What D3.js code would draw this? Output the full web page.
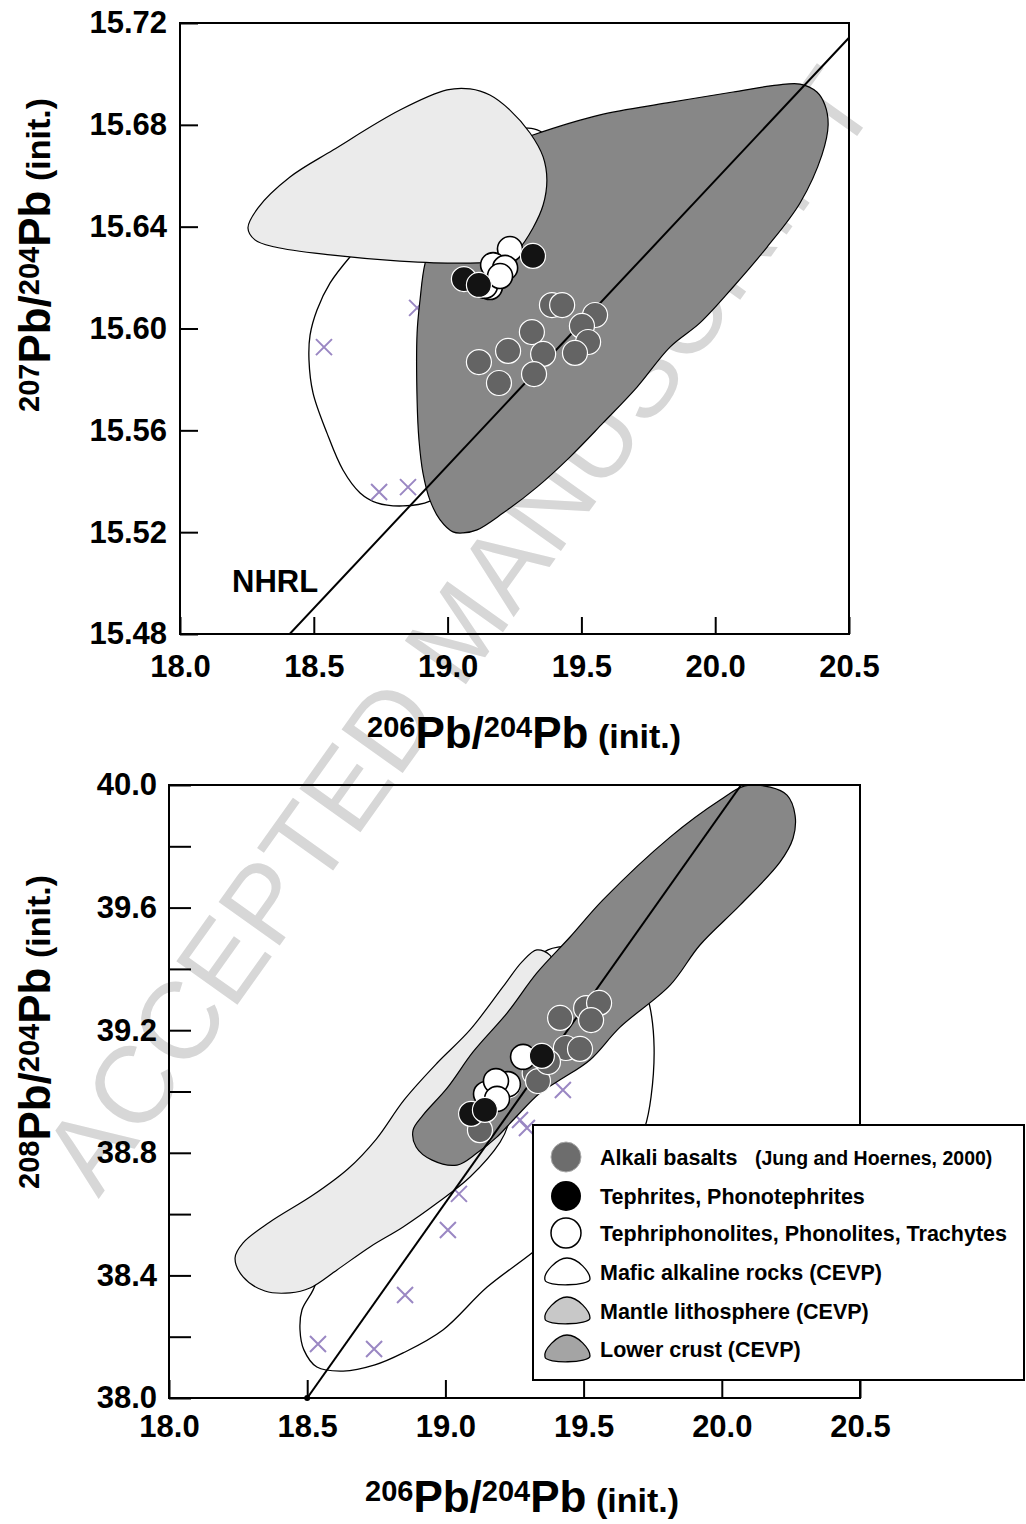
<!DOCTYPE html>
<html>
<head>
<meta charset="utf-8">
<script src="https://cdn.jsdelivr.net/npm/d3@7"></script>
<style>
  body { margin: 0; background: #fff; }
  svg { display: block; font-family: "Liberation Sans", Arial, Helvetica, sans-serif; }
</style>
</head>
<body>
<svg id="chart" width="1026" height="1524"></svg>
<script>
// ---------- shared axis values ----------
const xTicks = [18.0, 18.5, 19.0, 19.5, 20.0, 20.5];
const yTicks207 = [15.48, 15.52, 15.56, 15.60, 15.64, 15.68, 15.72];
const yTicks208 = [38.0, 38.2, 38.4, 38.6, 38.8, 39.0, 39.2, 39.4, 39.6, 39.8, 40.0];
const yLabels208 = [38.0, 38.4, 38.8, 39.2, 39.6, 40.0];

// ---------- 206Pb/204Pb vs 207Pb/204Pb ----------
const alkali207 = [
  [19.390, 15.6092], [19.428, 15.6092], [19.551, 15.6053], [19.502, 15.6010],
  [19.525, 15.5947], [19.476, 15.5904], [19.315, 15.5986], [19.226, 15.5912],
  [19.117, 15.5868], [19.192, 15.5786], [19.357, 15.5900], [19.323, 15.5821]
];
const tephrite207 = [[19.061, 15.6194], [19.117, 15.6171], [19.319, 15.6285]];
const phonolite207 = [
  [19.158, 15.6163], [19.140, 15.6168], [19.233, 15.6312], [19.170, 15.6249],
  [19.215, 15.6238], [19.196, 15.6206]
];
const mafic207Samples = [[18.538, 15.5927], [18.744, 15.5358], [18.852, 15.5377], [18.886, 15.6081]];
const nhrl207 = [[18.41, 15.48], [20.5, 15.7142]];

const maficField207 = [
  [18.635, 15.6281], [18.561, 15.6179], [18.512, 15.6073], [18.486, 15.5974],
  [18.482, 15.5876], [18.497, 15.5747], [18.549, 15.5590], [18.609, 15.5444],
  [18.673, 15.5354], [18.736, 15.5315], [18.833, 15.5303], [18.934, 15.5322],
  [19.084, 15.5444], [19.271, 15.5719], [19.383, 15.6112], [19.401, 15.6505],
  [19.364, 15.6760], [19.271, 15.6788], [19.121, 15.6740], [18.897, 15.6564],
  [18.729, 15.6387]
];
const mantleField207 = [
  [18.254, 15.6395], [18.291, 15.6473], [18.411, 15.6595], [18.572, 15.6701],
  [18.822, 15.6858], [18.998, 15.6937], [19.084, 15.6941], [19.158, 15.6917],
  [19.233, 15.6858], [19.308, 15.6768], [19.357, 15.6674], [19.371, 15.6583],
  [19.357, 15.6485], [19.319, 15.6395], [19.263, 15.6308], [19.215, 15.6269],
  [19.084, 15.6257], [18.822, 15.6265], [18.561, 15.6289], [18.355, 15.6320],
  [18.280, 15.6348]
];
const crustField207 = [
  [19.319, 15.6760], [19.570, 15.6839], [19.820, 15.6886], [20.067, 15.6929],
  [20.231, 15.6956], [20.317, 15.6960], [20.380, 15.6929], [20.410, 15.6878],
  [20.422, 15.6799], [20.399, 15.6682], [20.317, 15.6493], [20.194, 15.6320],
  [20.067, 15.6163], [19.943, 15.6022], [19.831, 15.5927], [19.708, 15.5770],
  [19.581, 15.5629], [19.457, 15.5495], [19.334, 15.5377], [19.207, 15.5275],
  [19.110, 15.5209], [19.058, 15.5197], [19.020, 15.5201], [18.972, 15.5248],
  [18.934, 15.5326], [18.908, 15.5432], [18.893, 15.5562], [18.886, 15.5719],
  [18.886, 15.5982], [18.897, 15.6112], [18.916, 15.6257], [18.972, 15.6426],
  [19.121, 15.6623], [19.252, 15.6733]
];

// ---------- 206Pb/204Pb vs 208Pb/204Pb ----------
const alkali208 = [
  [19.226, 39.020], [19.192, 38.990], [19.323, 39.060],
  [19.415, 39.240], [19.509, 39.272], [19.556, 39.289], [19.527, 39.233],
  [19.436, 39.142], [19.487, 39.139], [19.335, 39.034], [19.371, 39.096],
  [19.125, 38.874]
];
const tephrite208 = [[19.093, 38.927], [19.143, 38.940], [19.349, 39.116]];
const phonolite208 = [
  [19.226, 39.024], [19.147, 38.992], [19.183, 39.034], [19.187, 38.976], [19.281, 39.113]
];
const mafic208Samples = [
  [18.539, 38.176], [18.742, 38.160], [18.854, 38.336], [19.009, 38.548],
  [19.049, 38.666], [19.270, 38.907], [19.295, 38.881], [19.425, 39.005], [19.378, 39.423]
];
const nhrl208 = [[18.5, 38.0], [20.07, 40.0]];

const maficField208 = [
  [18.521, 38.352], [18.481, 38.287], [18.474, 38.222], [18.488, 38.157],
  [18.535, 38.101], [18.630, 38.088], [18.745, 38.108], [18.847, 38.147],
  [18.991, 38.222], [19.151, 38.362], [19.313, 38.473], [19.523, 38.630],
  [19.668, 38.776], [19.722, 38.884], [19.744, 38.982], [19.755, 39.145],
  [19.740, 39.276], [19.711, 39.357], [19.661, 39.413], [19.570, 39.462],
  [19.458, 39.475], [19.371, 39.462], [19.306, 39.413], [19.125, 39.168],
  [18.908, 38.907], [18.691, 38.646], [18.564, 38.450]
];
const mantleField208 = [
  [19.331, 39.462], [19.378, 39.445], [19.397, 39.403], [19.371, 39.347],
  [19.324, 39.266], [19.277, 39.135], [19.248, 39.005], [19.227, 38.891],
  [19.198, 38.835], [19.089, 38.721], [18.970, 38.636], [18.847, 38.558],
  [18.727, 38.493], [18.608, 38.418], [18.510, 38.359], [18.438, 38.343],
  [18.347, 38.349], [18.268, 38.395], [18.239, 38.457], [18.268, 38.506],
  [18.365, 38.574], [18.521, 38.662], [18.648, 38.748], [18.750, 38.845],
  [18.850, 38.972], [18.970, 39.093], [19.089, 39.201], [19.208, 39.341],
  [19.277, 39.423]
];
const crustField208 = [
  [19.813, 39.830], [19.994, 39.951], [20.084, 39.997], [20.175, 39.993],
  [20.236, 39.967], [20.265, 39.902], [20.258, 39.827], [20.211, 39.749],
  [20.066, 39.608], [19.921, 39.478], [19.813, 39.347], [19.632, 39.210],
  [19.523, 39.103], [19.415, 39.038], [19.342, 38.995], [19.245, 38.907],
  [19.187, 38.852], [19.114, 38.799], [19.042, 38.760], [18.952, 38.776],
  [18.894, 38.819], [18.883, 38.874], [18.919, 38.923], [19.006, 39.011],
  [19.100, 39.129], [19.223, 39.256], [19.331, 39.387], [19.451, 39.504],
  [19.570, 39.625]
];

// ---------- legend ----------
const legendLabels = [
  "Alkali basalts", "Tephrites, Phonotephrites", "Tephriphonolites, Phonolites, Trachytes",
  "Mafic alkaline rocks (CEVP)", "Mantle lithosphere (CEVP)", "Lower crust (CEVP)"
];
const legendNote = "(Jung and Hoernes, 2000)";

// ---------- styles ----------
const C = {
  alkali: "#646464", tephrite: "#131313", crust: "#878787", mantle: "#ebebeb",
  cross: "#9a87c3", watermark: "#d7d7d7"
};
const R = 12.5;
const FONT = "'Liberation Sans', Arial, Helvetica, sans-serif";

const svg = d3.select("#chart");

// manuscript watermark, underneath everything
svg.append("text")
  .attr("transform", "translate(458,630) rotate(-54.5)")
  .attr("text-anchor", "middle")
  .attr("dominant-baseline", "central")
  .attr("font-size", 109)
  .attr("fill", C.watermark)
  .text("ACCEPTED MANUSCRIPT");

function drawPanel(cfg) {
  const x = d3.scaleLinear().domain([18, 20.5]).range([cfg.left, cfg.right]);
  const y = d3.scaleLinear().domain(cfg.yDomain).range([cfg.bottom, cfg.top]);
  const g = svg.append("g");
  const clipId = "clip" + cfg.id;
  svg.append("clipPath").attr("id", clipId).append("rect")
    .attr("x", cfg.left).attr("y", cfg.top)
    .attr("width", cfg.right - cfg.left).attr("height", cfg.bottom - cfg.top);
  const plot = g.append("g").attr("clip-path", `url(#${clipId})`);

  const area = d3.line().x(d => x(d[0])).y(d => y(d[1]))
    .curve(d3.curveCatmullRomClosed.alpha(0.5));

  plot.append("path").attr("d", area(cfg.mafic))
    .attr("fill", "#fff").attr("stroke", "#000").attr("stroke-width", 1.3);

  // CEVP mafic samples
  const cs = 8;
  plot.append("g").selectAll("path").data(cfg.samples).join("path")
    .attr("d", d => {
      const cx = x(d[0]), cy = y(d[1]);
      return `M${cx - cs},${cy - cs}L${cx + cs},${cy + cs}M${cx - cs},${cy + cs}L${cx + cs},${cy - cs}`;
    })
    .attr("stroke", C.cross).attr("stroke-width", 2).attr("fill", "none");

  const fields = [
    { pts: cfg.mantle, fill: C.mantle },
    { pts: cfg.crust, fill: C.crust }
  ];
  if (cfg.mantleOnTop) fields.reverse();
  fields.forEach(f => plot.append("path").attr("d", area(f.pts))
    .attr("fill", f.fill).attr("stroke", "#000").attr("stroke-width", 1.2));

  // Northern Hemisphere Reference Line
  plot.append("path").attr("d", d3.line().x(d => x(d[0])).y(d => y(d[1]))(cfg.nhrl))
    .attr("stroke", "#000").attr("stroke-width", 2).attr("fill", "none");
  if (cfg.nhrlDot) {
    g.append("circle").attr("cx", x(cfg.nhrl[0][0])).attr("cy", y(cfg.nhrl[0][1]))
      .attr("r", 3).attr("fill", "#000");
  }

  const dots = (data, fill, stroke, sw) =>
    plot.append("g").selectAll("circle").data(data).join("circle")
      .attr("cx", d => x(d[0])).attr("cy", d => y(d[1])).attr("r", R)
      .attr("fill", fill).attr("stroke", stroke).attr("stroke-width", sw);
  dots(cfg.alkali, C.alkali, "#fff", 1.2);
  dots(cfg.phonolite, "#fff", "#000", 1.6);
  dots(cfg.tephrite, C.tephrite, "#fff", 1.2);

  // frame
  g.append("rect").attr("x", cfg.left).attr("y", cfg.top)
    .attr("width", cfg.right - cfg.left).attr("height", cfg.bottom - cfg.top)
    .attr("fill", "none").attr("stroke", "#000").attr("stroke-width", 2);

  const xAxis = g.append("g").attr("transform", `translate(0,${cfg.bottom})`)
    .call(d3.axisBottom(x).tickValues(xTicks).tickSize(-cfg.xTick).tickSizeOuter(0)
      .tickPadding(cfg.xPad).tickFormat(d3.format(".1f")));
  const yAxis = g.append("g").attr("transform", `translate(${cfg.left},0)`)
    .call(d3.axisLeft(y).tickValues(cfg.yTicks).tickSize(-cfg.yTick).tickSizeOuter(0)
      .tickPadding(cfg.yPad).tickFormat(cfg.yFormat));
  [xAxis, yAxis].forEach(a => {
    a.select(".domain").remove();
    a.selectAll("line").attr("stroke", "#000").attr("stroke-width", 2);
    a.selectAll("text").attr("font-size", 31).attr("font-weight", "bold")
      .attr("fill", "#000").attr("font-family", FONT);
  });

  // axis titles
  const title = (sel, sup) => {
    sel.attr("font-weight", "bold");
    sel.append("tspan").attr("font-size", 29).attr("dy", -11).text(sup);
    sel.append("tspan").attr("font-size", 44).attr("dy", 11).text("Pb/");
    sel.append("tspan").attr("font-size", 29).attr("dy", -11).text("204");
    sel.append("tspan").attr("font-size", 44).attr("dy", 11).text("Pb");
    sel.append("tspan").attr("font-size", 34).text(" (init.)");
  };
  g.append("text").attr("x", cfg.xTitle[0]).attr("y", cfg.xTitle[1])
    .attr("text-anchor", "middle").call(title, "206");
  g.append("text")
    .attr("transform", `translate(${cfg.yTitle[0]},${cfg.yTitle[1]}) rotate(-90)`)
    .attr("text-anchor", "middle").call(title, cfg.yIso);
  return { g, x, y };
}

const panel207 = drawPanel({
  id: "207", left: 180, right: 849, top: 23, bottom: 634, yDomain: [15.48, 15.72],
  yTicks: yTicks207, yFormat: d3.format(".2f"), xTick: 17, yTick: 18, xPad: 21, yPad: 13,
  mafic: maficField207, mantle: mantleField207, crust: crustField207, mantleOnTop: true,
  samples: mafic207Samples, nhrl: nhrl207,
  alkali: alkali207, tephrite: tephrite207, phonolite: phonolite207,
  xTitle: [524, 748], yTitle: [50, 255], yIso: "207"
});
panel207.g.append("text").attr("x", 232).attr("y", 592).attr("font-size", 31)
  .attr("font-weight", "bold").text("NHRL");

const panel208 = drawPanel({
  id: "208", left: 169, right: 860, top: 785, bottom: 1398, yDomain: [38, 40],
  yTicks: yTicks208, yFormat: d => yLabels208.some(v => Math.abs(v - d) < 1e-6) ? d3.format(".1f")(d) : "",
  xTick: 18, yTick: 22, xPad: 17, yPad: 12,
  mafic: maficField208, mantle: mantleField208, crust: crustField208, mantleOnTop: false,
  samples: mafic208Samples, nhrl: nhrl208, nhrlDot: true,
  alkali: alkali208, tephrite: tephrite208, phonolite: phonolite208,
  xTitle: [522, 1512], yTitle: [50, 1032], yIso: "208"
});

// ---------- legend ----------
const lg = svg.append("g").attr("font-weight", "bold");
lg.append("rect").attr("x", 533).attr("y", 1125).attr("width", 491).attr("height", 255)
  .attr("fill", "#fff").attr("stroke", "#000").attr("stroke-width", 2);
const rowY = [1157, 1196, 1233, 1272, 1311, 1349];
const blob = "M-22,8C-24,1 -10,-14 0,-14C11,-14 23,0 23,7C23,14 -21,15 -22,8Z";
lg.append("circle").attr("cx", 566).attr("cy", rowY[0]).attr("r", 15)
  .attr("fill", "#6d6d6d").attr("stroke", "#aaa").attr("stroke-width", 1);
lg.append("circle").attr("cx", 566).attr("cy", rowY[1]).attr("r", 15).attr("fill", "#000");
lg.append("circle").attr("cx", 566).attr("cy", rowY[2]).attr("r", 15)
  .attr("fill", "#fff").attr("stroke", "#000").attr("stroke-width", 1.5);
[["#fff", 3], ["#c8c8c8", 4], ["#a4a4a4", 5]].forEach(([f, i]) => {
  lg.append("path").attr("d", blob).attr("transform", `translate(567,${rowY[i]})`)
    .attr("fill", f).attr("stroke", "#000").attr("stroke-width", 1.3);
});
legendLabels.forEach((t, i) => {
  lg.append("text").attr("x", 600).attr("y", rowY[i] + 8).attr("font-size", 21.5).text(t);
});
lg.append("text").attr("x", 755).attr("y", rowY[0] + 8).attr("font-size", 19.5).text(legendNote);
</script>
</body>
</html>
